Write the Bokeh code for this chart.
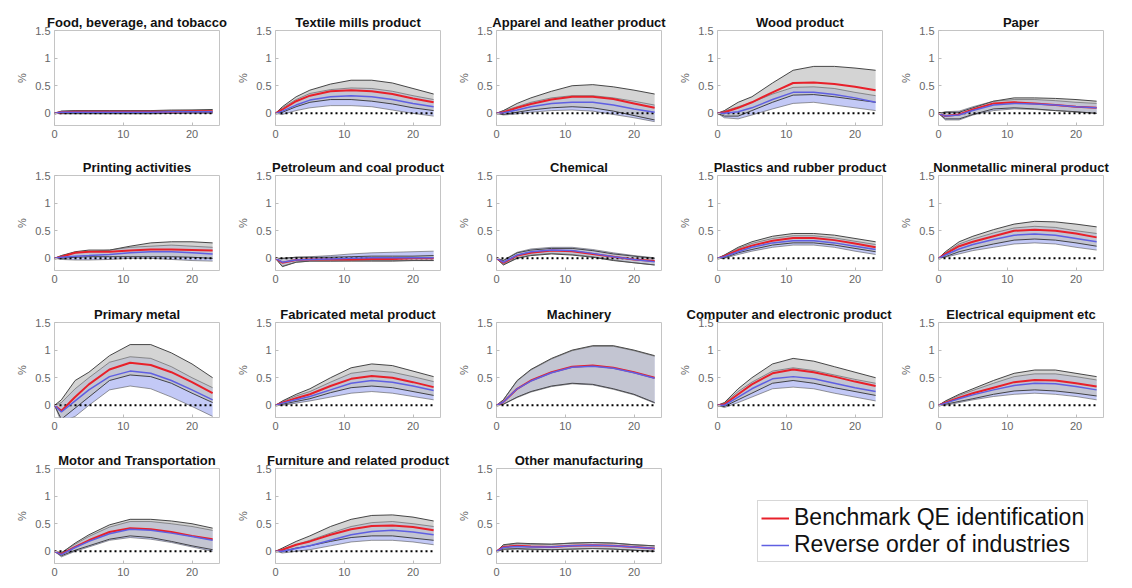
from bokeh.plotting import figure
from bokeh.layouts import column, row
from bokeh.models import Legend, LegendItem, FixedTicker, ColumnDataSource
from bokeh.embed import file_html
from bokeh.resources import INLINE

INDUSTRIES = [
    "Food, beverage, and tobacco", "Textile mills product", "Apparel and leather product",
    "Wood product", "Paper", "Printing activities", "Petroleum and coal product", "Chemical",
    "Plastics and rubber product", "Nonmetallic mineral product", "Primary metal",
    "Fabricated metal product", "Machinery", "Computer and electronic product",
    "Electrical equipment etc", "Motor and Transportation", "Furniture and related product",
    "Other manufacturing",
]

HORIZONS = [0, 1, 3, 5, 8, 11, 14, 17, 20, 23]
ZERO_X = [0, 23]
ZERO_Y = [0, 0]

BENCH_MED = [
    [0, 0.02, 0.03, 0.03, 0.03, 0.03, 0.03, 0.03, 0.04, 0.04],
    [0, 0.07, 0.22, 0.32, 0.40, 0.42, 0.40, 0.35, 0.27, 0.20],
    [0, 0.02, 0.10, 0.17, 0.25, 0.30, 0.30, 0.26, 0.18, 0.10],
    [0, 0.02, 0.10, 0.20, 0.38, 0.55, 0.56, 0.53, 0.48, 0.42],
    [0, -0.05, -0.02, 0.07, 0.18, 0.20, 0.18, 0.15, 0.12, 0.10],
    [0, 0.03, 0.10, 0.12, 0.12, 0.14, 0.16, 0.16, 0.15, 0.14],
    [0, -0.08, -0.03, -0.02, -0.02, -0.02, -0.01, -0.01, 0.0, 0.0],
    [0, -0.08, 0.05, 0.10, 0.14, 0.13, 0.08, 0.03, -0.02, -0.05],
    [0, 0.04, 0.15, 0.23, 0.32, 0.37, 0.37, 0.33, 0.27, 0.20],
    [0, 0.08, 0.22, 0.30, 0.40, 0.50, 0.52, 0.50, 0.45, 0.38],
    [0, -0.10, 0.15, 0.38, 0.65, 0.77, 0.73, 0.60, 0.42, 0.22],
    [0, 0.05, 0.13, 0.20, 0.35, 0.48, 0.53, 0.50, 0.42, 0.33],
    [0, 0.06, 0.30, 0.45, 0.60, 0.70, 0.72, 0.68, 0.60, 0.50],
    [0, 0.02, 0.20, 0.38, 0.58, 0.65, 0.60, 0.52, 0.43, 0.35],
    [0, 0.05, 0.14, 0.22, 0.32, 0.42, 0.46, 0.45, 0.40, 0.34],
    [0, -0.05, 0.08, 0.20, 0.35, 0.42, 0.40, 0.35, 0.28, 0.22],
    [0, 0.03, 0.12, 0.18, 0.30, 0.40, 0.46, 0.47, 0.44, 0.38],
    [0, 0.08, 0.10, 0.09, 0.08, 0.10, 0.11, 0.10, 0.08, 0.05],
]
BENCH_LO = [
    [0, 0.0, 0.0, 0.0, 0.0, 0.0, 0.0, 0.0, 0.01, 0.01],
    [0, 0.02, 0.12, 0.20, 0.25, 0.25, 0.22, 0.17, 0.10, 0.05],
    [0, -0.02, 0.02, 0.06, 0.10, 0.12, 0.10, 0.04, -0.04, -0.12],
    [0, -0.05, -0.05, 0.05, 0.20, 0.33, 0.34, 0.30, 0.25, 0.20],
    [0, -0.10, -0.10, -0.02, 0.08, 0.10, 0.08, 0.05, 0.03, 0.0],
    [0, 0.0, 0.02, 0.03, 0.03, 0.03, 0.03, 0.03, 0.02, 0.0],
    [0, -0.15, -0.07, -0.05, -0.05, -0.05, -0.05, -0.05, -0.04, -0.04],
    [0, -0.12, 0.0, 0.05, 0.08, 0.06, 0.02, -0.04, -0.08, -0.12],
    [0, 0.01, 0.10, 0.16, 0.24, 0.28, 0.28, 0.24, 0.18, 0.12],
    [0, 0.03, 0.12, 0.18, 0.26, 0.33, 0.35, 0.33, 0.28, 0.22],
    [0, -0.25, -0.05, 0.15, 0.45, 0.55, 0.52, 0.40, 0.22, 0.05],
    [0, 0.02, 0.07, 0.12, 0.23, 0.32, 0.35, 0.32, 0.25, 0.18],
    [0, 0.02, 0.15, 0.25, 0.35, 0.40, 0.38, 0.30, 0.20, 0.05],
    [0, -0.02, 0.10, 0.22, 0.40, 0.45, 0.40, 0.32, 0.25, 0.18],
    [0, 0.02, 0.07, 0.12, 0.20, 0.26, 0.28, 0.26, 0.22, 0.17],
    [0, -0.08, 0.02, 0.10, 0.22, 0.28, 0.25, 0.18, 0.10, 0.03],
    [0, 0.0, 0.06, 0.10, 0.18, 0.25, 0.28, 0.28, 0.24, 0.20],
    [0, 0.04, 0.05, 0.04, 0.03, 0.04, 0.05, 0.04, 0.02, 0.0],
]
BENCH_HI = [
    [0, 0.04, 0.05, 0.05, 0.05, 0.05, 0.05, 0.06, 0.06, 0.07],
    [0, 0.12, 0.30, 0.42, 0.53, 0.60, 0.60, 0.55, 0.45, 0.35],
    [0, 0.05, 0.18, 0.28, 0.40, 0.50, 0.52, 0.48, 0.42, 0.35],
    [0, 0.05, 0.20, 0.30, 0.55, 0.78, 0.85, 0.85, 0.82, 0.78],
    [0, 0.02, 0.02, 0.10, 0.22, 0.28, 0.28, 0.27, 0.25, 0.22],
    [0, 0.05, 0.12, 0.15, 0.15, 0.22, 0.28, 0.30, 0.30, 0.28],
    [0, 0.0, 0.02, 0.02, 0.02, 0.03, 0.04, 0.04, 0.04, 0.05],
    [0, -0.04, 0.10, 0.15, 0.18, 0.18, 0.14, 0.08, 0.04, 0.0],
    [0, 0.06, 0.20, 0.30, 0.40, 0.45, 0.45, 0.42, 0.36, 0.30],
    [0, 0.12, 0.30, 0.40, 0.52, 0.62, 0.67, 0.66, 0.62, 0.57],
    [0, 0.10, 0.45, 0.60, 0.90, 1.10, 1.10, 0.95, 0.75, 0.50],
    [0, 0.08, 0.20, 0.30, 0.50, 0.68, 0.75, 0.72, 0.62, 0.52],
    [0, 0.10, 0.45, 0.65, 0.85, 1.00, 1.08, 1.08, 1.00, 0.90],
    [0, 0.05, 0.30, 0.50, 0.75, 0.85, 0.80, 0.70, 0.60, 0.50],
    [0, 0.08, 0.20, 0.30, 0.45, 0.58, 0.64, 0.64, 0.58, 0.52],
    [0, -0.03, 0.15, 0.30, 0.48, 0.58, 0.58, 0.55, 0.50, 0.42],
    [0, 0.06, 0.18, 0.28, 0.45, 0.58, 0.65, 0.66, 0.62, 0.55],
    [0, 0.12, 0.15, 0.14, 0.13, 0.15, 0.16, 0.15, 0.12, 0.10],
]
REV_MED = [
    [0, 0.02, 0.02, 0.02, 0.02, 0.02, 0.02, 0.03, 0.03, 0.03],
    [0, 0.04, 0.15, 0.24, 0.30, 0.32, 0.30, 0.25, 0.18, 0.12],
    [0, 0.01, 0.06, 0.12, 0.18, 0.20, 0.20, 0.15, 0.08, 0.02],
    [0, 0.0, 0.03, 0.10, 0.25, 0.38, 0.38, 0.34, 0.28, 0.20],
    [0, -0.05, -0.03, 0.05, 0.15, 0.18, 0.17, 0.15, 0.12, 0.10],
    [0, 0.02, 0.04, 0.05, 0.07, 0.10, 0.12, 0.12, 0.10, 0.08],
    [0, -0.07, -0.03, -0.02, -0.01, 0.0, 0.01, 0.01, 0.01, 0.01],
    [0, -0.07, 0.06, 0.12, 0.15, 0.14, 0.09, 0.03, -0.02, -0.06],
    [0, 0.03, 0.12, 0.20, 0.28, 0.32, 0.32, 0.28, 0.22, 0.16],
    [0, 0.06, 0.17, 0.25, 0.34, 0.42, 0.44, 0.42, 0.36, 0.30],
    [0, -0.12, 0.08, 0.28, 0.52, 0.62, 0.58, 0.45, 0.28, 0.10],
    [0, 0.04, 0.10, 0.16, 0.28, 0.40, 0.45, 0.42, 0.35, 0.27],
    [0, 0.06, 0.30, 0.44, 0.59, 0.69, 0.71, 0.67, 0.59, 0.49],
    [0, 0.0, 0.15, 0.30, 0.48, 0.52, 0.48, 0.40, 0.32, 0.25],
    [0, 0.04, 0.12, 0.19, 0.28, 0.36, 0.40, 0.39, 0.34, 0.28],
    [0, -0.06, 0.07, 0.18, 0.32, 0.40, 0.38, 0.33, 0.27, 0.20],
    [0, 0.0, 0.05, 0.10, 0.20, 0.30, 0.36, 0.38, 0.35, 0.30],
    [0, 0.07, 0.09, 0.08, 0.08, 0.10, 0.11, 0.10, 0.08, 0.05],
]
REV_LO = [
    [0, -0.01, -0.01, -0.01, -0.01, -0.01, -0.01, 0.0, 0.0, 0.0],
    [0, -0.02, 0.05, 0.10, 0.14, 0.14, 0.12, 0.06, 0.0, -0.05],
    [0, -0.03, -0.01, 0.02, 0.05, 0.06, 0.04, -0.02, -0.08, -0.15],
    [0, -0.08, -0.10, -0.03, 0.08, 0.18, 0.20, 0.15, 0.10, 0.05],
    [0, -0.12, -0.12, -0.03, 0.05, 0.08, 0.07, 0.05, 0.02, 0.0],
    [0, -0.02, -0.03, -0.03, -0.02, 0.0, 0.0, -0.02, -0.04, -0.05],
    [0, -0.14, -0.07, -0.05, -0.05, -0.04, -0.04, -0.04, -0.04, -0.04],
    [0, -0.11, 0.01, 0.06, 0.09, 0.07, 0.03, -0.03, -0.08, -0.12],
    [0, 0.0, 0.07, 0.13, 0.20, 0.24, 0.24, 0.20, 0.13, 0.07],
    [0, 0.02, 0.08, 0.14, 0.20, 0.26, 0.28, 0.26, 0.20, 0.15],
    [0, -0.30, -0.20, 0.0, 0.28, 0.35, 0.30, 0.15, -0.02, -0.20],
    [0, 0.0, 0.04, 0.08, 0.15, 0.22, 0.25, 0.22, 0.16, 0.10],
    [0, 0.02, 0.14, 0.24, 0.34, 0.39, 0.37, 0.29, 0.19, 0.04],
    [0, -0.04, 0.05, 0.15, 0.30, 0.33, 0.30, 0.22, 0.15, 0.08],
    [0, 0.0, 0.05, 0.10, 0.16, 0.20, 0.22, 0.20, 0.16, 0.10],
    [0, -0.10, 0.0, 0.08, 0.20, 0.25, 0.22, 0.16, 0.08, 0.0],
    [0, -0.03, 0.0, 0.03, 0.10, 0.17, 0.20, 0.20, 0.17, 0.12],
    [0, 0.03, 0.04, 0.03, 0.03, 0.04, 0.05, 0.04, 0.02, 0.0],
]
REV_HI = [
    [0, 0.04, 0.05, 0.05, 0.05, 0.05, 0.05, 0.05, 0.06, 0.06],
    [0, 0.10, 0.25, 0.36, 0.43, 0.46, 0.45, 0.40, 0.32, 0.25],
    [0, 0.05, 0.12, 0.20, 0.28, 0.32, 0.32, 0.28, 0.22, 0.15],
    [0, 0.04, 0.12, 0.20, 0.35, 0.47, 0.48, 0.45, 0.38, 0.32],
    [0, 0.03, 0.04, 0.12, 0.22, 0.25, 0.25, 0.23, 0.20, 0.18],
    [0, 0.05, 0.10, 0.12, 0.15, 0.20, 0.22, 0.24, 0.22, 0.20],
    [0, 0.0, 0.02, 0.03, 0.05, 0.08, 0.10, 0.11, 0.12, 0.13],
    [0, -0.03, 0.11, 0.17, 0.20, 0.20, 0.16, 0.10, 0.05, 0.01],
    [0, 0.06, 0.18, 0.27, 0.36, 0.41, 0.41, 0.37, 0.31, 0.25],
    [0, 0.10, 0.26, 0.35, 0.46, 0.55, 0.58, 0.56, 0.50, 0.45],
    [0, 0.05, 0.30, 0.50, 0.78, 0.88, 0.85, 0.70, 0.50, 0.32],
    [0, 0.07, 0.17, 0.25, 0.42, 0.58, 0.63, 0.60, 0.52, 0.43],
    [0, 0.10, 0.44, 0.64, 0.84, 0.99, 1.07, 1.07, 0.99, 0.89],
    [0, 0.04, 0.25, 0.42, 0.62, 0.68, 0.63, 0.55, 0.47, 0.40],
    [0, 0.07, 0.18, 0.27, 0.40, 0.52, 0.57, 0.57, 0.52, 0.46],
    [0, -0.02, 0.13, 0.27, 0.44, 0.54, 0.54, 0.50, 0.45, 0.38],
    [0, 0.04, 0.12, 0.20, 0.33, 0.45, 0.52, 0.54, 0.50, 0.45],
    [0, 0.11, 0.14, 0.13, 0.13, 0.15, 0.16, 0.15, 0.12, 0.10],
]

LEGEND_LABELS = ["Benchmark QE identification", "Reverse order of industries"]

FONT = "Liberation Sans"
RED = "#e8202a"
BLUE = "#5f5fe2"
GREY_FILL = "#c4c4c4"
BLUE_FILL = "#a9b2f2"

COL_W = [229, 221, 221, 221, 221]
COL_LEFT = [54, 46, 46, 46, 46]
ROW_H = [151, 146, 146, 145]
ROW_TOP = [30, 24, 25, 25]
FRAME_H = 95
# long titles that would run past their panel edge are left-anchored and pulled left
TITLE_LEFT_SHIFT = {13: -31}


def panel(i):
    r, c = divmod(i, 5)
    p = figure(width=COL_W[c], height=ROW_H[r], x_range=(0, 24), y_range=(-0.22, 1.5),
               output_backend="svg", toolbar_location=None, title=INDUSTRIES[i],
               min_border_left=COL_LEFT[c], min_border_right=10, min_border_top=ROW_TOP[r],
               min_border_bottom=ROW_H[r] - ROW_TOP[r] - FRAME_H)
    p.title.text_font = FONT
    p.title.text_font_size = "13px"
    p.title.text_font_style = "bold"
    if i in TITLE_LEFT_SHIFT:
        p.title.align = "left"
        p.title.offset = TITLE_LEFT_SHIFT[i]
    else:
        p.title.align = "center"
    p.title.text_color = "#111111"
    p.title.standoff = 2
    p.grid.visible = False
    p.outline_line_color = "#c4c4c4"
    p.background_fill_color = "white"
    p.border_fill_color = "white"
    for ax in (p.xaxis[0], p.yaxis[0]):
        ax.axis_line_color = None
        ax.major_tick_line_color = "#bdbdbd"
        ax.major_tick_in = 3
        ax.major_tick_out = 0
        ax.minor_tick_line_color = None
        ax.major_label_text_font = FONT
        ax.major_label_text_font_size = "11px"
        ax.major_label_text_color = "#666666"
        ax.major_label_standoff = 4
    p.xaxis.ticker = FixedTicker(ticks=[0, 10, 20])
    p.yaxis.ticker = FixedTicker(ticks=[0, 0.5, 1, 1.5])
    p.yaxis.major_label_overrides = {0: "0", 0.5: "0.5", 1: "1", 1.5: "1.5"}
    p.yaxis.axis_label = "%"
    p.yaxis.axis_label_text_font = FONT
    p.yaxis.axis_label_text_font_size = "11px"
    p.yaxis.axis_label_text_font_style = "normal"
    p.yaxis.axis_label_text_color = "#666666"
    p.yaxis.axis_label_standoff = 4

    src = ColumnDataSource(dict(h=HORIZONS, bm=BENCH_MED[i], bl=BENCH_LO[i], bh=BENCH_HI[i],
                                rm=REV_MED[i], rl=REV_LO[i], rh=REV_HI[i]))
    p.varea(x="h", y1="rl", y2="rh", source=src, fill_color=BLUE_FILL, fill_alpha=0.7)
    p.varea(x="h", y1="bl", y2="bh", source=src, fill_color=GREY_FILL, fill_alpha=0.72)
    p.line("h", "bl", source=src, line_color="#333333", line_width=0.9)
    p.line("h", "bh", source=src, line_color="#333333", line_width=0.9)
    p.line("h", "rl", source=src, line_color="#555555", line_width=0.6)
    p.line("h", "rh", source=src, line_color="#555555", line_width=0.6)
    p.line(ZERO_X, ZERO_Y, line_color="black", line_width=2, line_dash="2 3")
    p.line("h", "bm", source=src, line_color=RED, line_width=2)
    p.line("h", "rm", source=src, line_color=BLUE, line_width=1.5)
    return p


panels = [panel(i) for i in range(len(INDUSTRIES))]

leg_fig = figure(width=COL_W[3] + COL_W[4], height=ROW_H[3], output_backend="svg",
                 toolbar_location=None, x_range=(100, 101), y_range=(100, 101), min_border=0,
                 x_axis_location=None, y_axis_location=None)
leg_fig.grid.visible = False
leg_fig.outline_line_color = None
r_red = leg_fig.line(ZERO_X, ZERO_Y, line_color=RED, line_width=2)
r_blue = leg_fig.line(ZERO_X, ZERO_Y, line_color=BLUE, line_width=1.5)
legend = Legend(items=[LegendItem(label=LEGEND_LABELS[0], renderers=[r_red]),
                       LegendItem(label=LEGEND_LABELS[1], renderers=[r_blue])],
                location=(86, 1))
legend.label_text_font = FONT
legend.label_text_font_size = "23px"
legend.label_text_color = "#111111"
legend.label_standoff = 5
legend.glyph_width = 28
legend.glyph_height = 26
legend.label_height = 26
legend.spacing = 0
legend.padding = 3
legend.margin = 0
legend.border_line_color = "#b0b0b0"
legend.border_line_width = 1
leg_fig.add_layout(legend, "center")

rows = [row(*panels[0:5]), row(*panels[5:10]), row(*panels[10:15]),
        row(*panels[15:18], leg_fig)]
layout = column(*rows, spacing=0)

open("out.html", "w").write(file_html(layout, INLINE))
